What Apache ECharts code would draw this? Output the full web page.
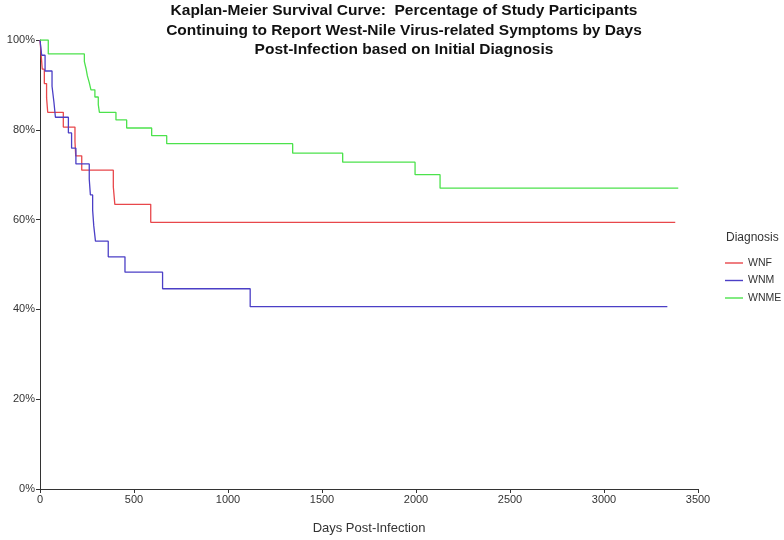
<!DOCTYPE html>
<html>
<head>
<meta charset="utf-8">
<script src="https://cdn.jsdelivr.net/npm/echarts@6/dist/echarts.min.js"></script>
<style>html,body{margin:0;padding:0;background:#fff}#chart{width:784px;height:540px}</style>
</head>
<body>
<div id="chart"></div>
<script>
const xTicks = [0, 500, 1000, 1500, 2000, 2500, 3000, 3500];
const yTicks = [0, 20, 40, 60, 80, 100];

const wnfDays = [0, 6, 12, 23, 35, 41, 124, 186, 190, 222, 390, 398, 589, 3379];
const wnfPct  = [100, 96.8, 93.5, 90.3, 87.1, 83.9, 80.6, 77.4, 74.2, 71.0, 67.3, 63.4, 59.4, 59.4];

const wnmDays = [0, 9, 27, 64, 74, 82, 151, 168, 191, 262, 268, 280, 286, 295, 363, 452, 652, 1118, 3337];
const wnmPct  = [100, 96.6, 93.1, 89.7, 86.2, 82.8, 79.3, 75.9, 72.4, 69.0, 65.5, 62.1, 58.6, 55.2, 51.7, 48.3, 44.6, 40.6, 40.6];

const wnmeDays = [0, 44, 236, 245, 252, 262, 271, 292, 310, 316, 404, 461, 594, 674, 1344, 1610, 1995, 2128, 3395];
const wnmePct  = [100, 96.9, 95.2, 93.6, 92.0, 90.5, 88.9, 87.3, 85.6, 83.9, 82.2, 80.4, 78.7, 76.9, 74.8, 72.8, 70.0, 67.0, 67.0];

const seriesNames = ['WNF', 'WNM', 'WNME'];
const seriesColors = ['#E8474B', '#4B3FC6', '#4CE24C'];
const titleText = 'Kaplan-Meier Survival Curve:  Percentage of Study Participants\nContinuing to Report West-Nile Virus-related Symptoms by Days\nPost-Infection based on Initial Diagnosis';

const pairs = (xs, ys) => xs.map((x, i) => [x, ys[i]]);
const allData = [pairs(wnfDays, wnfPct), pairs(wnmDays, wnmPct), pairs(wnmeDays, wnmePct)];

const font = '"Liberation Sans", Arial, sans-serif';
const chart = echarts.init(document.getElementById('chart'), null, {renderer: 'canvas'});
chart.setOption({
  animation: false,
  backgroundColor: '#fff',
  title: {
    text: titleText,
    left: 399, top: -4, textAlign: 'center',
    textStyle: {fontFamily: font, fontWeight: 'bold', fontSize: 15.5, color: '#111', lineHeight: 19.5}
  },
  graphic: [{
    type: 'text', left: 726, top: 232,
    style: {text: 'Diagnosis', fontFamily: font, fontSize: 12, fill: '#333'}
  }],
  legend: {
    data: seriesNames, orient: 'vertical', left: 720, top: 252.5,
    icon: 'rect', itemWidth: 18, itemHeight: 1.4, itemGap: 6.5,
    textStyle: {fontFamily: font, fontSize: 10.5, color: '#333'}
  },
  grid: {left: 40, right: 86, top: 40, bottom: 51, containLabel: false},
  xAxis: {
    type: 'value', min: 0, max: 3500, interval: 500,
    name: 'Days Post-Infection', nameLocation: 'middle', nameGap: 33,
    nameTextStyle: {fontFamily: font, fontSize: 13, color: '#333'},
    axisLine: {show: true, lineStyle: {color: '#333', width: 1}},
    axisTick: {show: true, length: 4, lineStyle: {color: '#333'}},
    axisLabel: {fontFamily: font, fontSize: 11, color: '#333', margin: 5,
      formatter: v => xTicks.includes(v) ? String(v) : ''},
    splitLine: {show: false}
  },
  yAxis: {
    type: 'value', min: 0, max: 100, interval: 20,
    axisLine: {show: true, lineStyle: {color: '#333', width: 1}},
    axisTick: {show: true, length: 4, lineStyle: {color: '#333'}},
    axisLabel: {fontFamily: font, fontSize: 11, color: '#333', margin: 5,
      formatter: v => yTicks.includes(v) ? v + '%' : ''},
    splitLine: {show: false}
  },
  series: seriesNames.map((n, i) => ({
    name: n, type: 'line', step: 'end', data: allData[i],
    showSymbol: false, symbol: 'none', color: seriesColors[i],
    lineStyle: {width: 1.3, color: seriesColors[i]}
  }))
});
</script>
</body>
</html>
